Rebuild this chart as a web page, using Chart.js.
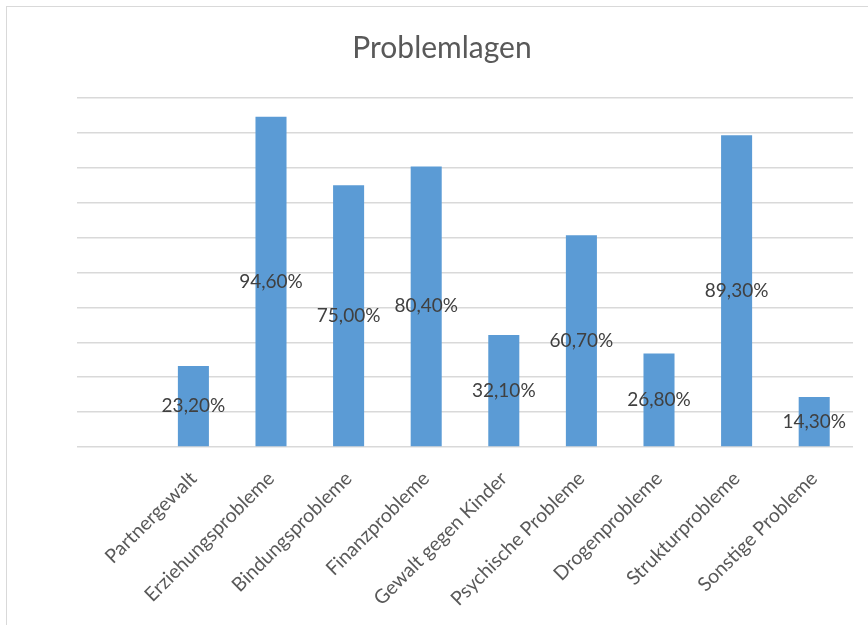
<!DOCTYPE html>
<html>
<head>
<meta charset="utf-8">
<script src="https://cdn.jsdelivr.net/npm/chart.js@4"></script>
<style>
    body { margin: 0; background: #ffffff; }
    #rahmen {
        position: absolute; left: 6px; top: 6px; width: 900px; height: 700px;
        border: 1.5px solid #d9d9d9;
    }
    #grafik { position: absolute; left: 0; top: 0; }
</style>
</head>
<body>
<div id="rahmen"></div>
<canvas id="grafik" width="868" height="625"></canvas>
<script>
// erste Kategorie bleibt leer wie im Original
const kategorien = ["", "Partnergewalt", "Erziehungsprobleme", "Bindungsprobleme", "Finanzprobleme",
    "Gewalt gegen Kinder", "Psychische Probleme", "Drogenprobleme", "Strukturprobleme", "Sonstige Probleme"];
const anteile = [null, 23.2, 94.6, 75.0, 80.4, 32.1, 60.7, 26.8, 89.3, 14.3];

const yMin = 0;
const yMax = 100;
const ySchritt = 10;

function formatProzent(wert) {
    return wert.toFixed(2).replace(".", ",") + "%";
}

const werteBeschriftung = {
    id: "werteBeschriftung",
    afterDatasetsDraw(chart) {
        const ctx = chart.ctx;
        const meta = chart.getDatasetMeta(0);
        ctx.save();
        ctx.font = "19px Lato";
        ctx.fillStyle = "#404040";
        ctx.textAlign = "center";
        ctx.textBaseline = "middle";
        meta.data.forEach((balken, i) => {
            const wert = anteile[i];
            if (wert === null) return;
            ctx.fillText(formatProzent(wert), balken.x, (balken.y + balken.base) / 2);
        });
        ctx.restore();
    }
};

new Chart(document.getElementById("grafik"), {
    type: "bar",
    data: {
        labels: kategorien,
        datasets: [{
            data: anteile,
            backgroundColor: "#5b9bd5",
            borderWidth: 0,
            barPercentage: 0.4,
            categoryPercentage: 1.0
        }]
    },
    options: {
        responsive: false,
        animation: false,
        layout: { padding: { left: 31, right: 15, top: 0, bottom: 0 } },
        plugins: {
            legend: { display: false },
            tooltip: { enabled: false },
            title: {
                display: true,
                text: "Problemlagen",
                color: "#595959",
                font: { family: "Lato", size: 30, weight: "normal" },
                padding: { top: 30, bottom: 32 }
            }
        },
        scales: {
            x: {
                grid: { display: false },
                border: { display: false },
                ticks: {
                    color: "#595959",
                    font: { family: "Lato", size: 19.5 },
                    minRotation: 45,
                    maxRotation: 45,
                    autoSkip: false,
                    padding: 12
                },
                afterFit(scale) { scale.height = 178; }
            },
            y: {
                min: yMin,
                max: yMax,
                ticks: { display: false, stepSize: ySchritt },
                grid: { color: "#d9d9d9", lineWidth: 1.5, drawTicks: false },
                border: { display: false },
                afterFit(scale) { scale.width = 46; }
            }
        }
    },
    plugins: [werteBeschriftung]
});
</script>
</body>
</html>
